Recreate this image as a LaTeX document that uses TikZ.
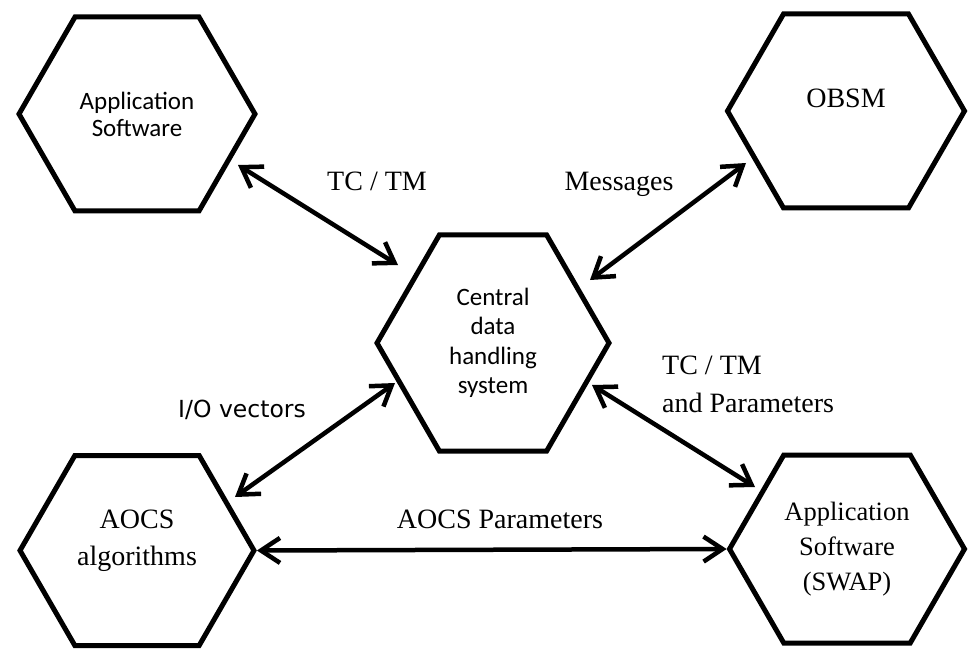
\documentclass[tikz,border=0pt]{standalone}
\usepackage{fontspec}
\setmainfont{Liberation Serif}
\newfontfamily\calibrifont{Carlito}
\newfontfamily\verdanafont{DejaVu Sans}
\usetikzlibrary{shapes.symbols,arrows.meta,calc}

\tikzset{
  hexa/.style={signal, signal to=east and west, signal pointer angle=120,
    draw, line width=5pt, inner sep=0pt, align=center,
    minimum width=236pt, minimum height=194pt},
  sanstext/.style={font=\calibrifont\fontsize{25}{27}\selectfont},
  seriftext/.style={font=\fontsize{28}{37}\selectfont},
  link/.style={line width=4.5pt,
    {Straight Barb[length=19pt,width=25pt]}-{Straight Barb[length=19pt,width=25pt]}},
}

\begin{document}
\begin{tikzpicture}[x=1pt,y=-1pt]
  \useasboundingbox (0,0) rectangle (968,652);
  \node[hexa,sanstext] (app) at (137,114) {Application\\Software};
  \node[hexa,seriftext,text depth=26pt,minimum width=237pt] (obsm) at (846,111) {OBSM};
  \node[hexa,sanstext,font=\calibrifont\fontsize{25}{29.5}\selectfont,
    minimum width=232pt,minimum height=216pt] (cdh) at (493,343) {Central\\data\\handling\\system};
  \node[hexa,seriftext,text depth=25pt,minimum width=234pt,minimum height=190pt] (aocs) at (137,550.5) {AOCS\\algorithms};
  \node[hexa,font=\fontsize{26.5}{35}\selectfont,minimum width=235pt,minimum height=188pt] (swap) at (847,549) {Application\\Software\\(SWAP)};
  \draw[link] ($(app)+(101,51)$) -- ($(cdh)+(-95,-78)$);
  \draw[link] ($(obsm)+(-100,52)$) -- ($(cdh)+(97,-63)$);
  \draw[link] ($(cdh)+(-98,40)$) -- ($(aocs)+(98,-53.5)$);
  \draw[link] ($(cdh)+(99,42)$) -- ($(swap)+(-92,-62)$);
  \draw[link] (aocs.east) -- (swap.west);
  \node[seriftext,anchor=base] (tctm) at (377,191) {TC / TM};
  \node[seriftext,anchor=base] (msg) at (619,191) {Messages};
  \node[font=\fontsize{28}{38}\selectfont,anchor=north west,align=left,inner sep=0pt] (tctmpar) at (662,356) {TC / TM\\and Parameters};
  \node[font=\verdanafont\fontsize{23.5}{28}\selectfont,anchor=base] (iovec) at (242,417) {I/O vectors};
  \node[seriftext,anchor=base] (aocspar) at (500,528) {AOCS Parameters};
\end{tikzpicture}
\end{document}
